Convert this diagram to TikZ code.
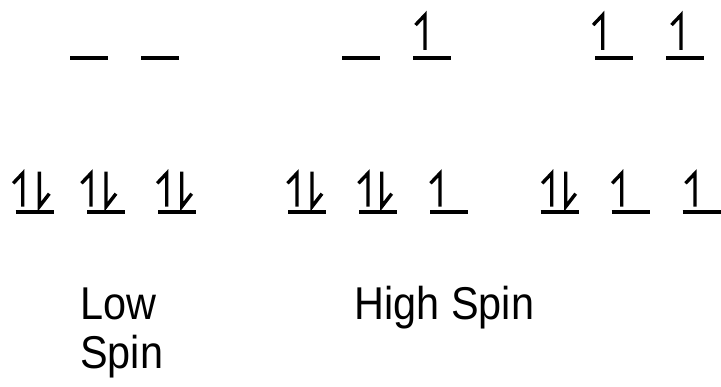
\documentclass[tikz,border=0pt]{standalone}
\usepackage{fontspec}
\setmainfont{Liberation Sans}
\tikzset{
  orb/.style={line width=4.4pt},
  spinline/.style={line width=3.4pt, line cap=butt, line join=miter},
  lbl/.style={font=\fontsize{46}{48}\selectfont, inner sep=0pt, anchor=base west}
}
% up harpoon: x, top, bottom
\newcommand\upsp[3]{\draw[spinline] (#1-9.5,#2+10) -- (#1,#2) -- (#1,#3);}
% down harpoon: x, top, bottom
\newcommand\dnsp[3]{\draw[spinline] (#1,#2) -- (#1,#3) -- (#1+10,#3-13);}
\newcommand\orbl[3]{\draw[orb] (#1,#3) -- (#2,#3);}
\newcommand\narrow[1]{\scalebox{0.9}[1]{#1}}
\begin{document}
\begin{tikzpicture}[x=1pt,y=-1pt]
\useasboundingbox (0,0) rectangle (721,387);
% top row orbitals
\orbl{70}{108}{58.3}
\orbl{141}{179}{58.3}
\orbl{342}{380}{58.3}
\orbl{413}{451}{58.3}
\orbl{595}{633}{58.3}
\orbl{666}{704}{58.3}
\upsp{425}{15}{50}
\upsp{602.7}{15}{50}
\upsp{681}{15}{50}
% bottom row orbitals
\orbl{15.7}{54}{212}
\orbl{87}{125}{212}
\orbl{158}{196}{212}
\orbl{288.3}{326}{212}
\orbl{359}{396.7}{212}
\orbl{430}{468}{212}
\orbl{540.7}{579.3}{212}
\orbl{611.7}{650}{212}
\orbl{682.7}{721}{212}
% low spin
\upsp{22.7}{173.3}{206.7} \dnsp{39.3}{171.7}{206.7}
\upsp{91}{173.3}{206.7} \dnsp{106}{171.7}{206.7}
\upsp{166.7}{173.3}{206.7} \dnsp{181.7}{171.7}{206.7}
% high spin (middle)
\upsp{297}{173.3}{206.7} \dnsp{312}{171.7}{206.7}
\upsp{368}{173.3}{206.7} \dnsp{381.7}{171.7}{206.7}
\upsp{440}{173.3}{206.7}
% high spin (right)
\upsp{551.7}{173.3}{206.7} \dnsp{565.7}{171.7}{206.7}
\upsp{621.7}{173.3}{206.7}
\upsp{695}{173.3}{206.7}
% labels
\node[lbl] (low) at (80,320) {\narrow{Low}};
\node[lbl] (lowspin) at (80,368.3) {\narrow{Spin}};
\node[lbl] (high) at (354.5,320) {\narrow{High Spin}};
\end{tikzpicture}
\end{document}
